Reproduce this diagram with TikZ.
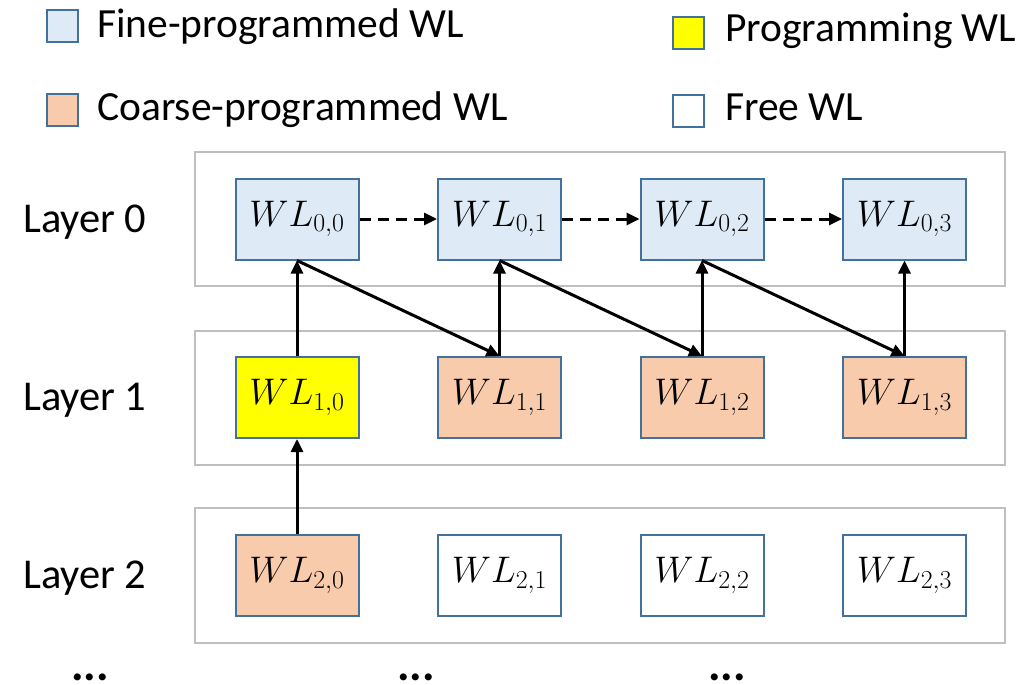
\documentclass[tikz,border=0pt]{standalone}
\usepackage{fix-cm}
\usepackage{fontspec}
\setmainfont{Carlito}
\usetikzlibrary{arrows.meta}

\definecolor{fineblue}{HTML}{DEEBF7}
\definecolor{coarse}{HTML}{F8CBAD}
\definecolor{progyellow}{HTML}{FFFF00}
\definecolor{wlborder}{HTML}{41719C}
\definecolor{layergray}{HTML}{BFBFBF}

\tikzset{
  wl/.style={draw=wlborder, line width=2pt, minimum width=123pt, minimum height=81pt,
             inner sep=0pt, font=\fontsize{37}{40}\selectfont},
  finewl/.style={wl, fill=fineblue},
  coarsewl/.style={wl, fill=coarse},
  progwl/.style={wl, fill=progyellow},
  freewl/.style={wl, fill=white},
  layerbox/.style={draw=layergray, line width=2.5pt},
  keybox/.style={draw=wlborder, line width=2pt, minimum width=31pt, minimum height=32pt, inner sep=0pt},
  keytext/.style={anchor=base west, inner sep=0pt, font=\fontsize{41.5}{48}\selectfont},
  layerlabel/.style={anchor=base west, inner sep=0pt, font=\fontsize{42.5}{49}\selectfont},
  link/.style={line width=3pt, -{Triangle[length=13pt,width=12pt]}},
  dashlink/.style={link, dash pattern=on 11pt off 7pt},
  etc/.style={anchor=base, inner sep=0pt, font=\bfseries\fontsize{47}{52}\selectfont}
}

\begin{document}
\begin{tikzpicture}[x=1pt, y=-1pt]
  \useasboundingbox (0,0) rectangle (1028,685);

  % legend
  \node[keybox, fill=fineblue]   (kfine)   at (62.5,26.5) {};
  \node[keytext] (tfine)   at (97,38)   {Fine-programmed WL};
  \node[keybox, fill=coarse]     (kcoarse) at (62.5,110) {};
  \node[keytext] (tcoarse) at (97,121)  {Coarse-programmed WL};
  \node[keybox, fill=progyellow] (kprog)   at (688.5,33.5) {};
  \node[keytext] (tprog)   at (725,42)  {Programming WL};
  \node[keybox, fill=white]      (kfree)   at (688.5,110.5) {};
  \node[keytext] (tfree)   at (725,121) {Free WL};

  % layer frames
  \draw[layerbox] (195,152) rectangle (1005,286);
  \draw[layerbox] (195,331) rectangle (1005,465);
  \draw[layerbox] (195,508) rectangle (1005,643);

  % layer labels
  \node[layerlabel] (l0) at (23,232)   {Layer 0};
  \node[layerlabel] (l1) at (23,410.5) {Layer 1};
  \node[layerlabel] (l2) at (23,588)   {Layer 2};

  % word lines
  \node[finewl] (w00) at (297,219)   {$WL_{0,0}$};
  \node[finewl] (w01) at (499.5,219) {$WL_{0,1}$};
  \node[finewl] (w02) at (702,219)   {$WL_{0,2}$};
  \node[finewl] (w03) at (904.5,219) {$WL_{0,3}$};

  \node[progwl]   (w10) at (297,397.5)   {$WL_{1,0}$};
  \node[coarsewl] (w11) at (499.5,397.5) {$WL_{1,1}$};
  \node[coarsewl] (w12) at (702,397.5)   {$WL_{1,2}$};
  \node[coarsewl] (w13) at (904.5,397.5) {$WL_{1,3}$};

  \node[coarsewl] (w20) at (297,575.5)   {$WL_{2,0}$};
  \node[freewl]   (w21) at (499.5,575.5) {$WL_{2,1}$};
  \node[freewl]   (w22) at (702,575.5)   {$WL_{2,2}$};
  \node[freewl]   (w23) at (904.5,575.5) {$WL_{2,3}$};

  % programming order
  \draw[dashlink] (w00.east) -- (w01.west);
  \draw[dashlink] (w01.east) -- (w02.west);
  \draw[dashlink] (w02.east) -- (w03.west);

  \draw[link] (w20.north) -- (w10.south);
  \draw[link] (w10.north) -- (w00.south);
  \draw[link] (w11.north) -- (w01.south);
  \draw[link] (w12.north) -- (w02.south);
  \draw[link] (w13.north) -- (w03.south);

  \draw[link] (w00.south) -- (w11.north);
  \draw[link] (w01.south) -- (w12.north);
  \draw[link] (w02.south) -- (w13.north);

  % continuation marks
  \node[etc] (e0) at (90,680)  {...};
  \node[etc] (e1) at (416,680) {...};
  \node[etc] (e2) at (727,680) {...};
\end{tikzpicture}
\end{document}
